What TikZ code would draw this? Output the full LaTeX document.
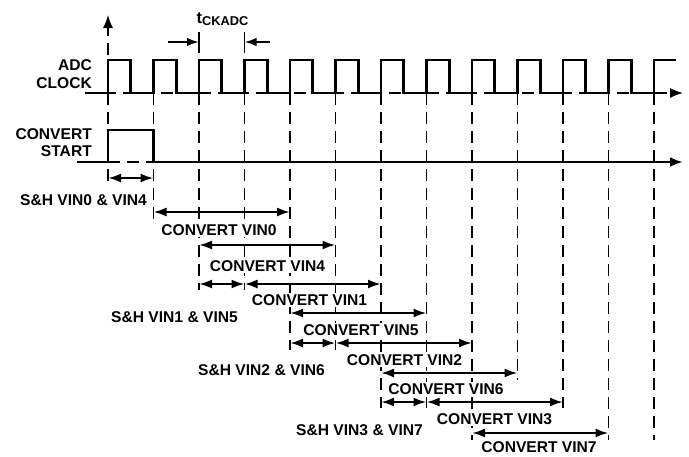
\documentclass[tikz,border=0pt]{standalone}
\usepackage{fontspec}
\setmainfont{Liberation Sans}
\usetikzlibrary{arrows.meta}
\begin{document}
\begin{tikzpicture}[x=1pt,y=-1pt,
  sig/.style={line width=2.6pt, line join=miter},
  gridline/.style={line width=1.3pt, dash pattern=on 12pt off 7pt},
  axisarrow/.style={-{Latex[length=13pt,width=10pt]}},
  dim/.style={line width=2.2pt, {Latex[length=13pt,width=9pt]}-{Latex[length=13pt,width=9pt]}},
  tick/.style={line width=1.5pt},
  lbl/.style={font=\fontsize{15.6}{18}\selectfont\bfseries, inner sep=0pt},
  tlbl/.style={lbl, fill=white, inner sep=1.5pt}]
\useasboundingbox (0,0) rectangle (689,456);
% grid coordinates (rising edges)
\foreach \k in {0,...,12} { \coordinate (t\k) at ({108+45.5*\k},93); }
% vertical dashed lines
\foreach \k/\yend in {0/185,1/219,2/290,3/290,4/350,5/350,6/408,7/408,8/440,9/380,10/408,11/440,12/440}
  { \draw[gridline] (t\k) -- (t\k |- 0,\yend); }
% axes
\coordinate (ytop) at (108,15);
\coordinate (clkstart) at (85,93);
\coordinate (clkend) at (683,93);
\draw[gridline,axisarrow] (t0) -- (ytop);
\draw[gridline,axisarrow] (clkstart) -- (clkend);
% clock
\draw[sig] (clkstart) \foreach \k in {0,...,11} { -- (t\k) -- ++(0,-33) -- ++(22.75,0) -- ++(0,33) } -- (t12) -- ++(0,-33) -- (676,60);
% convert start
\coordinate (csstart) at (77,162);
\coordinate (csend) at (683,162);
\draw[gridline] (t0 |- 0,162) -- (t1 |- 0,162);
\draw[sig,axisarrow] (csstart) -- (t0 |- 0,162) -- (t0 |- 0,130) -- (t1 |- 0,130) -- (t1 |- 0,162) -- (csend);
% signal labels
\node[lbl,anchor=east] (adc) at (92,65.5) {ADC};
\node[lbl,anchor=east] (clock) at (92,83) {CLOCK};
\node[lbl,anchor=east] (convert) at (92,134.5) {CONVERT};
\node[lbl,anchor=east] (start) at (92,151) {START};
% tCKADC
\draw[tick] (t2 |- 0,32) -- (t2 |- 0,53);
\draw[tick] (t3 |- 0,32) -- (t3 |- 0,53);
\coordinate (ckl) at (168,42);
\coordinate (ckr) at (270,42);
\draw[line width=2pt,-{Latex[length=12pt,width=8.5pt]}] (ckl) -- (t2 |- 0,42);
\draw[line width=2pt,-{Latex[length=12pt,width=8.5pt]}] (ckr) -- (t3 |- 0,42);
\node[lbl,anchor=base west] (tck) at (196.5,23) {\fontsize{16.5}{18}\selectfont t\raisebox{-2.5pt}{\fontsize{12.8}{13}\selectfont CKADC}};
% timing labels (masking the dashed lines)
\node[tlbl,anchor=east] (sh0) at (148.5,200) {S\&H VIN0 \& VIN4};
\node[tlbl] (c0) at (219,230) {CONVERT VIN0};
\node[tlbl] (c4) at (267.5,266) {CONVERT VIN4};
\node[tlbl] (c1) at (309.5,300) {CONVERT VIN1};
\node[tlbl,anchor=east] (sh1) at (239.5,317) {S\&H VIN1 \& VIN5};
\node[tlbl] (c5) at (361,330) {CONVERT VIN5};
\node[tlbl] (c2) at (404.5,360) {CONVERT VIN2};
\node[tlbl,anchor=east] (sh2) at (326.5,370) {S\&H VIN2 \& VIN6};
\node[tlbl] (c6) at (446,389) {CONVERT VIN6};
\node[tlbl] (c3) at (494.5,419) {CONVERT VIN3};
\node[tlbl,anchor=east] (sh3) at (424.5,430) {S\&H VIN3 \& VIN7};
\node[tlbl] (c7) at (539,447.5) {CONVERT VIN7};
% timing arrows
\draw[dim] (t0 |- 0,178) -- (t1 |- 0,178);
\draw[dim] (t1 |- 0,212) -- (t4 |- 0,212);
\draw[dim] (t2 |- 0,245) -- (t5 |- 0,245);
\draw[dim] (t2 |- 0,284) -- (t3 |- 0,284);
\draw[dim] (t3 |- 0,284) -- (t6 |- 0,284);
\draw[dim] (t4 |- 0,313) -- (t7 |- 0,313);
\draw[dim] (t4 |- 0,343) -- (t5 |- 0,343);
\draw[dim] (t5 |- 0,343) -- (t8 |- 0,343);
\draw[dim] (t6 |- 0,373) -- (t9 |- 0,373);
\draw[dim] (t6 |- 0,402) -- (t7 |- 0,402);
\draw[dim] (t7 |- 0,402) -- (t10 |- 0,402);
\draw[dim] (t8 |- 0,433) -- (t11 |- 0,433);
\end{tikzpicture}
\end{document}
